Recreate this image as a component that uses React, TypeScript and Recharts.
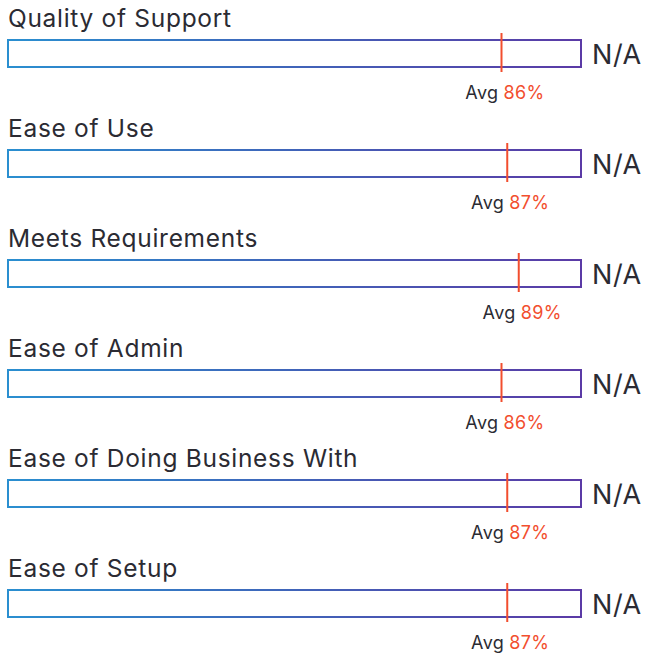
import { BarChart, Bar, XAxis, YAxis } from "recharts";

const categories = [
    "Quality of Support",
    "Ease of Use",
    "Meets Requirements",
    "Ease of Admin",
    "Ease of Doing Business With",
    "Ease of Setup",
];
const averages = [86, 87, 89, 86, 87, 87];
const scores = ["N/A", "N/A", "N/A", "N/A", "N/A", "N/A"];

const data = categories.map((name, i) => ({
    name,
    full: 100,
    avg: averages[i],
    score: scores[i],
}));

const FONT = "Inter, 'Noto Sans', sans-serif";
const RED = "#f24e2e";
const INK = "#2b2b33";

function BoxShape(props: any) {
    const { x, y, width, height, index } = props;
    const avg = averages[index];
    const markX = x + (width * avg) / 100;
    return (
        <g>
            <rect
                x={x + 1}
                y={y + 1}
                width={width - 2}
                height={height - 2}
                fill="#fff"
                stroke="url(#boxGrad)"
                strokeWidth={2}
            />
            <line x1={markX} x2={markX} y1={y - 6} y2={y + height + 4} stroke={RED} strokeWidth={2} />
            <text x={x + 1} y={y - 12} fontFamily={FONT} fontSize={24.5} letterSpacing={0.7} fill={INK}>
                {categories[index]}
            </text>
            <text
                x={markX - 3}
                y={y + height + 31}
                fontFamily={FONT}
                fontSize={18}
                letterSpacing={0.4}
                fill={INK}
                textAnchor="end"
            >
                Avg
            </text>
            <text
                x={markX + 2}
                y={y + height + 31}
                fontFamily={FONT}
                fontSize={18}
                letterSpacing={0.4}
                fill={RED}
                textAnchor="start"
            >
                {`${avg}%`}
            </text>
            <text
                x={x + width + 10}
                y={y + height / 2 + 10}
                fontFamily={FONT}
                fontSize={27}
                letterSpacing={0.6}
                fill={INK}
            >
                {scores[index]}
            </text>
        </g>
    );
}

export default function App() {
    return (
        <div style={{ position: "absolute", left: 0, top: 0, width: 645, height: 655, overflow: "hidden", background: "#fff" }}>
            <BarChart
                layout="vertical"
                width={645}
                height={660}
                data={data}
                margin={{ top: -2, right: 63, left: 7, bottom: 2 }}
                barCategoryGap={0}
            >
                <defs>
                    <linearGradient id="boxGrad" x1="0" y1="0" x2="1" y2="0">
                        <stop offset="0%" stopColor="#2a8fd0" />
                        <stop offset="50%" stopColor="#4064b9" />
                        <stop offset="100%" stopColor="#5b3aa6" />
                    </linearGradient>
                </defs>
                <XAxis type="number" domain={[0, 100]} hide />
                <YAxis type="category" dataKey="name" hide />
                <Bar dataKey="full" barSize={29} shape={BoxShape} isAnimationActive={false} />
            </BarChart>
        </div>
    );
}
